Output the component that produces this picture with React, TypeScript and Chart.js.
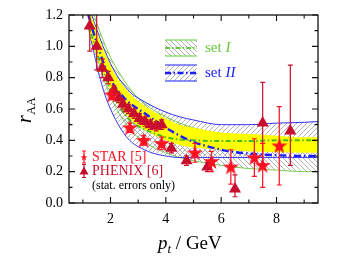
import React, { useEffect, useRef } from "react";
import { Chart, registerables } from "chart.js";

Chart.register(...registerables);

// ---------- data ----------
const PT_GRID = [1.2, 1.4, 1.6, 1.8, 2.0, 2.25, 2.5, 2.75, 3.0, 3.5, 4.0, 4.5, 5.0, 6.0, 7.0, 8.0, 9.0, 9.5];
const SET1_UPPER = [1.3, 1.2, 1.1, 1.01, 0.93, 0.85, 0.78, 0.72, 0.67, 0.6, 0.55, 0.51, 0.48, 0.44, 0.42, 0.41, 0.41, 0.41];
const SET1_LOWER = [1.12, 1.0, 0.88, 0.77, 0.68, 0.59, 0.52, 0.46, 0.42, 0.36, 0.32, 0.29, 0.27, 0.24, 0.22, 0.21, 0.2, 0.2];
const SET2_UPPER = [1.26, 1.16, 1.06, 0.97, 0.89, 0.81, 0.75, 0.7, 0.67, 0.62, 0.58, 0.55, 0.53, 0.5, 0.5, 0.51, 0.515, 0.52];
const SET2_LOWER = [1.12, 0.96, 0.81, 0.69, 0.6, 0.51, 0.44, 0.39, 0.36, 0.32, 0.3, 0.29, 0.29, 0.29, 0.29, 0.29, 0.29, 0.29];
const SET1_CENTRAL = [1.15, 1.02, 0.91, 0.81, 0.72, 0.64, 0.57, 0.52, 0.49, 0.45, 0.42, 0.405, 0.4, 0.395, 0.395, 0.4, 0.4, 0.4];
const SET2_CENTRAL = [1.2, 1.08, 0.97, 0.87, 0.79, 0.72, 0.67, 0.63, 0.6, 0.54, 0.48, 0.43, 0.39, 0.34, 0.315, 0.305, 0.3, 0.3];
const OVERLAP_UPPER = [1.25, 1.15, 1.05, 0.96, 0.88, 0.8, 0.74, 0.69, 0.65, 0.59, 0.54, 0.5, 0.48, 0.45, 0.44, 0.43, 0.42, 0.42];
const OVERLAP_LOWER = [1.1, 0.99, 0.89, 0.8, 0.72, 0.64, 0.58, 0.53, 0.49, 0.44, 0.4, 0.37, 0.355, 0.34, 0.33, 0.325, 0.32, 0.32];

const STAR_PT = [2.05, 2.7, 3.2, 3.85, 5.05, 5.65, 6.35, 7.2, 7.5, 8.1];
const STAR_RAA = [0.69, 0.48, 0.4, 0.38, 0.32, 0.265, 0.23, 0.29, 0.24, 0.365];
const STAR_ERR = [0.03, 0.03, 0.03, 0.04, 0.06, 0.065, 0.11, 0.12, 0.14, 0.25];

const PHENIX_PT = [1.25, 1.5, 1.7, 1.92, 2.12, 2.3, 2.45, 2.65, 2.85, 3.05, 3.25, 3.45, 3.65, 3.85, 4.2, 4.75, 5.5, 6.5, 7.5, 8.5];
const PHENIX_RAA = [1.13, 1.0, 0.86, 0.8, 0.72, 0.67, 0.63, 0.6, 0.57, 0.54, 0.52, 0.5, 0.49, 0.5, 0.35, 0.27, 0.23, 0.09, 0.51, 0.46];
const PHENIX_ERR_UP = [0.2, 0.25, 0.06, 0.04, 0.03, 0.03, 0.03, 0.03, 0.03, 0.03, 0.03, 0.03, 0.03, 0.03, 0.03, 0.03, 0.03, 0.09, 0.26, 0.42];
const PHENIX_ERR_DN = [0.16, 0.15, 0.06, 0.04, 0.03, 0.03, 0.03, 0.03, 0.03, 0.03, 0.03, 0.03, 0.03, 0.03, 0.03, 0.03, 0.03, 0.05, 0.26, 0.22];

const X_TICKS = [2, 4, 6, 8];
const X_MINOR = [1, 3, 5, 7, 9];
const Y_TICKS = [0, 0.2, 0.4, 0.6, 0.8, 1.0, 1.2];
const Y_MINOR = [0.1, 0.3, 0.5, 0.7, 0.9, 1.1];

// ---------- styles ----------
const SERIF = "'Liberation Serif', 'DejaVu Serif', serif";
const GREEN = "#62cc36";
const BLUE = "#1c1cff";
const YELLOW = "#ffff00";
const STAR_RED = "#ff1020";
const PHENIX_RED = "#c8102e";
const HATCH = "#a0a0a0";

function makeHatch(dir: number) {
  const c = document.createElement("canvas");
  c.width = 5;
  c.height = 5;
  const g = c.getContext("2d")!;
  g.strokeStyle = HATCH;
  g.lineWidth = 0.8;
  g.beginPath();
  if (dir > 0) {
    g.moveTo(-1, 6); g.lineTo(6, -1);
    g.moveTo(-1, 1); g.lineTo(1, -1);
    g.moveTo(4, 6); g.lineTo(6, 4);
  } else {
    g.moveTo(-1, -1); g.lineTo(6, 6);
    g.moveTo(4, -1); g.lineTo(6, 1);
    g.moveTo(-1, 4); g.lineTo(1, 6);
  }
  g.stroke();
  return g.createPattern(c, "repeat")!;
}

function starPath(g: CanvasRenderingContext2D, cx: number, cy: number, ro: number, ri: number) {
  g.beginPath();
  for (let i = 0; i < 10; i++) {
    const r = i % 2 === 0 ? ro : ri;
    const a = -Math.PI / 2 + (i * Math.PI) / 5;
    const px = cx + r * Math.cos(a);
    const py = cy + r * Math.sin(a);
    if (i === 0) g.moveTo(px, py);
    else g.lineTo(px, py);
  }
  g.closePath();
}

function makeStar(size: number, ro: number, ri: number) {
  const c = document.createElement("canvas");
  c.width = size;
  c.height = size;
  const g = c.getContext("2d")!;
  g.fillStyle = STAR_RED;
  starPath(g, size / 2, size / 2 + 0.5, ro, ri);
  g.fill();
  return c;
}

const pts = (ys: number[]) => PT_GRID.map((x, i) => ({ x, y: ys[i] }));

export default function App() {
  const ref = useRef<HTMLCanvasElement>(null);

  useEffect(() => {
    document.body.style.margin = "0";
    const canvas = ref.current!;
    const hatch1 = makeHatch(-1);
    const hatch2 = makeHatch(1);
    const starImg = makeStar(19, 8.5, 3.3);

    const drawBar = (ctx: CanvasRenderingContext2D, X: number, Y1: number, Y2: number, color: string, cap = 2.5) => {
      ctx.strokeStyle = color;
      ctx.lineWidth = 1.2;
      ctx.beginPath();
      ctx.moveTo(X, Y1); ctx.lineTo(X, Y2);
      ctx.moveTo(X - cap, Y1); ctx.lineTo(X + cap, Y1);
      ctx.moveTo(X - cap, Y2); ctx.lineTo(X + cap, Y2);
      ctx.stroke();
    };

    const decor = {
      id: "decor",
      afterDatasetsDraw(chart: any) {
        const { ctx, chartArea: a } = chart;
        const xs = chart.scales.x;
        const ys = chart.scales.y;
        ctx.save();
        ctx.beginPath();
        ctx.rect(a.left, a.top, a.right - a.left, a.bottom - a.top);
        ctx.clip();
        PHENIX_PT.forEach((p, i) => {
          drawBar(ctx, xs.getPixelForValue(p), ys.getPixelForValue(PHENIX_RAA[i] - PHENIX_ERR_DN[i]), ys.getPixelForValue(PHENIX_RAA[i] + PHENIX_ERR_UP[i]), PHENIX_RED);
        });
        STAR_PT.forEach((p, i) => {
          drawBar(ctx, xs.getPixelForValue(p), ys.getPixelForValue(STAR_RAA[i] - STAR_ERR[i]), ys.getPixelForValue(STAR_RAA[i] + STAR_ERR[i]), STAR_RED);
        });
        ctx.restore();

        // frame and inward ticks
        ctx.save();
        ctx.strokeStyle = "#111";
        ctx.lineWidth = 1.3;
        ctx.strokeRect(a.left, a.top, a.right - a.left, a.bottom - a.top);
        ctx.lineWidth = 1.1;
        ctx.beginPath();
        const xt = (v: number, len: number) => {
          const X = xs.getPixelForValue(v);
          ctx.moveTo(X, a.bottom); ctx.lineTo(X, a.bottom - len);
          ctx.moveTo(X, a.top); ctx.lineTo(X, a.top + len);
        };
        const yt = (v: number, len: number) => {
          const Y = ys.getPixelForValue(v);
          ctx.moveTo(a.left, Y); ctx.lineTo(a.left + len, Y);
          ctx.moveTo(a.right, Y); ctx.lineTo(a.right - len, Y);
        };
        X_TICKS.forEach((v) => xt(v, 6));
        X_MINOR.forEach((v) => xt(v, 3.5));
        Y_TICKS.forEach((v) => yt(v, 6));
        Y_MINOR.forEach((v) => yt(v, 3.5));
        ctx.stroke();
        ctx.restore();
      },
      afterDraw(chart: any) {
        const { ctx } = chart;
        ctx.save();
        ctx.textBaseline = "alphabetic";

        // x axis title: p_t / GeV
        let x = 158;
        const yb = 249;
        ctx.fillStyle = "#000";
        ctx.font = `italic 19px ${SERIF}`;
        ctx.fillText("p", x, yb);
        x += ctx.measureText("p").width;
        ctx.font = `italic 13px ${SERIF}`;
        ctx.fillText("t", x, yb + 4);
        x += ctx.measureText("t").width;
        ctx.font = `19px ${SERIF}`;
        ctx.fillText(" / GeV", x, yb);

        // y axis title: r_AA
        ctx.save();
        ctx.translate(31, 123);
        ctx.rotate(-Math.PI / 2);
        ctx.font = `italic 20px ${SERIF}`;
        ctx.fillText("r", 0, 0);
        const rw = ctx.measureText("r").width;
        ctx.font = `12px ${SERIF}`;
        ctx.fillText("AA", rw + 0.5, 4);
        ctx.restore();

        // upper legend (set I / set II)
        const swatch = (top: number, color: string, pat: CanvasPattern, dash: number[], lw: number) => {
          const l = 165, r = 197, h = 16;
          ctx.fillStyle = pat;
          ctx.fillRect(l, top, r - l, h);
          ctx.strokeStyle = color;
          ctx.lineWidth = 1;
          ctx.beginPath();
          ctx.moveTo(l, top); ctx.lineTo(r, top);
          ctx.moveTo(l, top + h); ctx.lineTo(r, top + h);
          ctx.stroke();
          ctx.setLineDash(dash);
          ctx.lineWidth = lw;
          ctx.beginPath();
          ctx.moveTo(l, top + h / 2); ctx.lineTo(r, top + h / 2);
          ctx.stroke();
          ctx.setLineDash([]);
        };
        swatch(40, GREEN, hatch1, [5, 2, 1.5, 2], 2);
        swatch(65, BLUE, hatch2, [6, 2.5, 1.5, 2.5], 2.4);
        ctx.textBaseline = "middle";
        ctx.fillStyle = GREEN;
        ctx.font = `15px ${SERIF}`;
        ctx.fillText("set ", 205, 48.5);
        let w = ctx.measureText("set ").width;
        ctx.font = `italic 15px ${SERIF}`;
        ctx.fillText("I", 205 + w, 48.5);
        ctx.fillStyle = BLUE;
        ctx.font = `15px ${SERIF}`;
        ctx.fillText("set ", 205, 73.5);
        w = ctx.measureText("set ").width;
        ctx.font = `italic 15px ${SERIF}`;
        ctx.fillText("II", 205 + w, 73.5);

        // lower-left legend (data)
        drawBar(ctx, 84, 151, 163, STAR_RED, 2);
        ctx.fillStyle = STAR_RED;
        starPath(ctx, 84, 157.5, 3.5, 1.4);
        ctx.fill();
        drawBar(ctx, 84, 164.5, 177.5, PHENIX_RED, 2);
        ctx.fillStyle = PHENIX_RED;
        ctx.beginPath();
        ctx.moveTo(84, 166.5); ctx.lineTo(88.5, 174.5); ctx.lineTo(79.5, 174.5);
        ctx.closePath();
        ctx.fill();
        ctx.font = `14px ${SERIF}`;
        ctx.fillStyle = STAR_RED;
        ctx.fillText("STAR [5]", 92, 157.5);
        ctx.fillStyle = PHENIX_RED;
        ctx.fillText("PHENIX [6]", 92, 171.5);
        ctx.fillStyle = "#000";
        ctx.font = `12px ${SERIF}`;
        ctx.fillText("(stat. errors only)", 92, 185.5);
        ctx.restore();
      },
    };

    const lineDs = (ys: number[], extra: any) => ({
      data: pts(ys),
      pointRadius: 0,
      cubicInterpolationMode: "monotone",
      fill: false,
      ...extra,
    });

    const chart = new Chart(canvas, {
      type: "line",
      data: {
        datasets: [
          {
            label: "STAR [5]",
            data: STAR_PT.map((x, i) => ({ x, y: STAR_RAA[i] })),
            showLine: false,
            pointStyle: starImg,
            pointRadius: 8,
            borderWidth: 0,
          },
          {
            label: "PHENIX [6]",
            data: PHENIX_PT.map((x, i) => ({ x, y: PHENIX_RAA[i] })),
            showLine: false,
            pointStyle: "triangle",
            pointRadius: 7,
            backgroundColor: PHENIX_RED,
            borderColor: PHENIX_RED,
            borderWidth: 0,
          },
          lineDs(SET2_CENTRAL, { label: "set II", borderColor: BLUE, borderWidth: 2.4, borderDash: [7, 3, 1.5, 3] }),
          lineDs(SET1_CENTRAL, { label: "set I", borderColor: "#48bb20", borderWidth: 2, borderDash: [5, 2.5, 1.5, 2.5] }),
          lineDs(OVERLAP_UPPER, { label: "overlap", borderWidth: 0, borderColor: YELLOW, fill: "+1", backgroundColor: YELLOW }),
          lineDs(OVERLAP_LOWER, { label: "overlap low", borderWidth: 0, borderColor: YELLOW }),
          lineDs(SET2_UPPER, { label: "set II band", borderColor: BLUE, borderWidth: 0.9, fill: "+1", backgroundColor: hatch2 }),
          lineDs(SET2_LOWER, { label: "set II low", borderColor: BLUE, borderWidth: 0.9 }),
          lineDs(SET1_UPPER, { label: "set I band", borderColor: GREEN, borderWidth: 0.9, fill: "+1", backgroundColor: hatch1 }),
          lineDs(SET1_LOWER, { label: "set I low", borderColor: GREEN, borderWidth: 0.9 }),
        ],
      },
      options: {
        responsive: false,
        animation: false,
        devicePixelRatio: 1,
        layout: { padding: { left: 0, top: 15, right: 25, bottom: 0 } },
        plugins: { legend: { display: false }, tooltip: { enabled: false } },
        scales: {
          x: {
            type: "linear",
            min: 0.5,
            max: 9.5,
            grid: { display: false, drawTicks: false },
            border: { display: false },
            afterBuildTicks: (s: any) => { s.ticks = X_TICKS.map((v) => ({ value: v })); },
            afterFit: (s: any) => { s.height = 63; },
            ticks: { color: "#000", padding: 8, font: { family: SERIF, size: 14 }, maxRotation: 0, autoSkip: false },
          },
          y: {
            type: "linear",
            min: 0,
            max: 1.2,
            grid: { display: false, drawTicks: false },
            border: { display: false },
            afterBuildTicks: (s: any) => { s.ticks = Y_TICKS.map((v) => ({ value: v })); },
            afterFit: (s: any) => { s.width = 69; },
            ticks: { color: "#000", padding: 6, font: { family: SERIF, size: 14 }, callback: (v: any) => Number(v).toFixed(1), autoSkip: false },
          },
        },
      } as any,
      plugins: [decor],
    });
    return () => chart.destroy();
  }, []);

  return (
    <div style={{ width: 343, height: 266 }}>
      <canvas ref={ref} width={343} height={266} style={{ display: "block", width: 343, height: 266 }} />
    </div>
  );
}
